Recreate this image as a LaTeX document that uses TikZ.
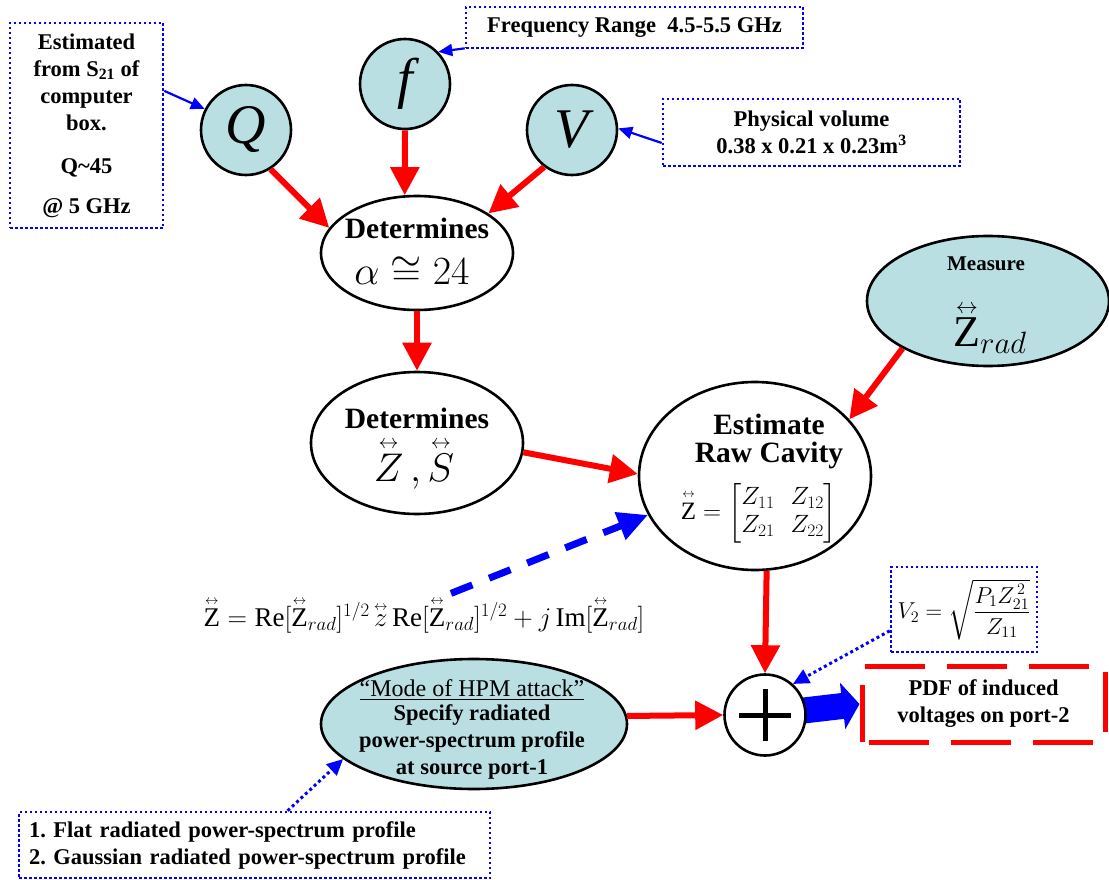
\RequirePackage{fix-cm}
\documentclass[tikz,border=0pt]{standalone}
\usepackage{amsmath}
\usepackage{fontspec}
\setmainfont{Liberation Serif}
\usetikzlibrary{arrows.meta,backgrounds,shapes.geometric,positioning}
\definecolor{hpInk}{HTML}{000000}
\definecolor{hpCyan}{HTML}{BADFE3}
\definecolor{hpBlue}{HTML}{0000FF}
\definecolor{hpRed}{HTML}{FF0000}
\newcommand{\hpdyad}[1]{\overset{\scriptscriptstyle\leftrightarrow}{#1}}
\newcommand{\hpsize}[2]{\fontsize{#1}{#2}\selectfont}
\tikzset{
  hp bubble/.style={circle, draw=hpInk, fill=hpCyan, line width=2.6pt,
    minimum size=90pt, inner sep=0pt, font=\itshape\hpsize{56}{60}},
  hp oval/.style={ellipse, draw=hpInk, fill=white, line width=2.6pt, inner sep=0pt},
  hp oval soft/.style={hp oval, fill=hpCyan},
  hp note/.style={draw=hpBlue, fill=white, line width=2.5pt,
    dash pattern=on 2.5pt off 2.5pt, inner sep=0pt},
  hp text/.style={font=\bfseries\hpsize{22.5}{27}, text=hpInk, align=center},
  hp head/.style={font=\bfseries\hpsize{29.5}{28}, text=hpInk, align=center},
  hp math/.style={font=\hpsize{40}{44}, text=hpInk, inner sep=0pt},
  hp flow/.style={draw=hpRed, line width=6pt,
    -{Triangle[length=28pt,width=28pt]}},
  hp hint/.style={draw=hpBlue, line width=2.2pt,
    -{Triangle[length=14pt,width=12pt]}},
  hp dotted hint/.style={draw=hpBlue, line width=3pt,
    dash pattern=on 3pt off 3pt, -{Triangle[length=16pt,width=15pt]}},
  hp dashed hint/.style={draw=hpBlue, line width=7pt,
    dash pattern=on 23pt off 18pt, -{Triangle[length=30pt,width=28pt]}},
  hp block/.style={draw=hpBlue, line width=26pt,
    -{Triangle[length=17pt,width=46pt]}}
}

\begin{document}
\begin{tikzpicture}[x=1pt,y=-1pt]
  \begin{scope}[on background layer]
    \fill[white] (0,0) rectangle (1109,880);
  \end{scope}
  \useasboundingbox (0,0) rectangle (1109,880);

  % parameter bubbles
  \node[hp bubble] (Q) at (246,130) {Q};
  \node[hp bubble] (f) at (405,84) {f};
  \node[hp bubble] (V) at (572,130) {V};

  % notes
  \node[hp note, hp text, minimum width=153pt, minimum height=205pt] (qNote) at (86.5,125.5)
    {Estimated\\from S\textsubscript{21} of\\computer\\box.\\[16pt]Q\textasciitilde45\\[13pt]@ 5 GHz};
  \node[hp note, hp text, minimum width=337pt, minimum height=41pt] (fNote) at (634.5,27.5)
    {Frequency Range\ \ 4.5-5.5 GHz};
  \node[hp note, hp text, minimum width=297pt, minimum height=67pt] (vNote) at (811.5,132.5)
    {Physical volume\\0.38 x 0.21 x 0.23m\textsuperscript{3}};

  % ovals
  \node[hp oval, minimum width=192pt, minimum height=114pt] (alpha) at (417,253) {};
  \node[hp head] (alphaTop) at (417,228) {Determines};
  \node[hp math] (alphaVal) at (412,271) {$\alpha\cong 24$};

  \node[hp oval, minimum width=212pt, minimum height=142pt] (zs) at (417,443) {};
  \node[hp head] (zsTop) at (417,418) {Determines};
  \node[hp math] (zsVal) at (414,464) {$\hpdyad{Z}\,,\hpdyad{S}$};

  \node[hp oval, minimum width=232pt, minimum height=188pt] (est) at (755,476) {};
  \node[hp head] (estTop) at (769,441) {Estimate\\Raw Cavity};
  \node[hp math, font=\hpsize{25}{28}] (estMat) at (759,513)
    {\setlength{\arraycolsep}{8pt}$\hpdyad{\mathrm{Z}}=\begin{bmatrix}Z_{11}&Z_{12}\\Z_{21}&Z_{22}\end{bmatrix}$};

  \node[hp oval soft, minimum width=242pt, minimum height=130pt] (meas) at (988,301) {};
  \node[hp text, font=\bfseries\hpsize{21}{25}] (measTop) at (986,264) {Measure};
  \node[hp math, font=\hpsize{44}{48}] (measVal) at (990,328) {$\hpdyad{\mathrm{Z}}_{rad}$};

  \node[hp oval soft, minimum width=306pt, minimum height=130pt] (mode) at (474,724) {};
  \node[hp text] (modeText) at (472,729)
    {\underline{\mdseries\hpsize{24}{27}“Mode of HPM attack”}\\[-3pt]Specify radiated\\power-spectrum profile\\at source port-1};

  % summing junction and result
  \node[circle, draw=hpInk, fill=white, line width=2.6pt, minimum size=81pt] (plus) at (765,715) {};
  \draw[line width=5pt] ([xshift=-26pt]plus.center) -- ([xshift=26pt]plus.center);
  \draw[line width=5pt] ([yshift=-26pt]plus.center) -- ([yshift=26pt]plus.center);
  \node[draw=hpRed, line width=5pt, dash pattern=on 60pt off 22pt, dash phase=75pt,
    hp text, minimum width=243pt, minimum height=76pt, inner sep=0pt] (pdf) at (983.5,704)
    {PDF of induced\\voltages on port-2};
  \node[hp note, minimum width=146pt, minimum height=85pt] (v2Note) at (964,609.5)
    {\hpsize{23}{26}$V_2=\sqrt{\dfrac{P_1Z_{21}^{\,2}}{Z_{11}}}$};

  \node[hp note, hp text, align=left, text width=451pt, inner xsep=10pt,
    minimum height=66pt] (profiles) at (254.5,845)
    {1.\ Flat radiated power-spectrum profile\\2.\ Gaussian radiated power-spectrum profile};

  \node[font=\hpsize{27}{30}, inner sep=3pt] (formula) at (424,615)
    {$\hpdyad{\mathrm{Z}}=\mathrm{Re}[\hpdyad{\mathrm{Z}}_{rad}]^{1/2}\,\hpdyad{z}\,\mathrm{Re}[\hpdyad{\mathrm{Z}}_{rad}]^{1/2}+j\,\mathrm{Im}[\hpdyad{\mathrm{Z}}_{rad}]$};

  % main flow
  \draw[hp flow] (Q.-58) -- (alpha.164);
  \draw[hp flow] (f.south) -- (alpha.102);
  \draw[hp flow] (V.-127) -- (alpha.29);
  \draw[hp flow] (alpha.south) -- (zs.north);
  \draw[hp flow] (zs.-5) -- (est.179);
  \draw[hp flow] (meas.-151) -- (est.31);
  \draw[hp flow] (est.-83) -- (plus.north);
  \draw[hp flow] (mode.3) -- (plus.west);
  \begin{scope}[on background layer]
    \draw[hp block] (plus.center) -- (pdf.west);
  \end{scope}

  % pointers from notes
  \draw[hp hint] (qNote.24) -- (Q.153);
  \draw[hp hint] (fNote.-173) -- (f.44);
  \draw[hp hint] (vNote.-176) -- (V.2);
  \draw[hp dotted hint] (profiles.46) -- (mode.-165);
  \draw[hp dotted hint] (v2Note.-164) -- (plus.48);
  \draw[hp dashed hint] ([xshift=27pt]formula.north) -- (est.-160);
\end{tikzpicture}
\end{document}
